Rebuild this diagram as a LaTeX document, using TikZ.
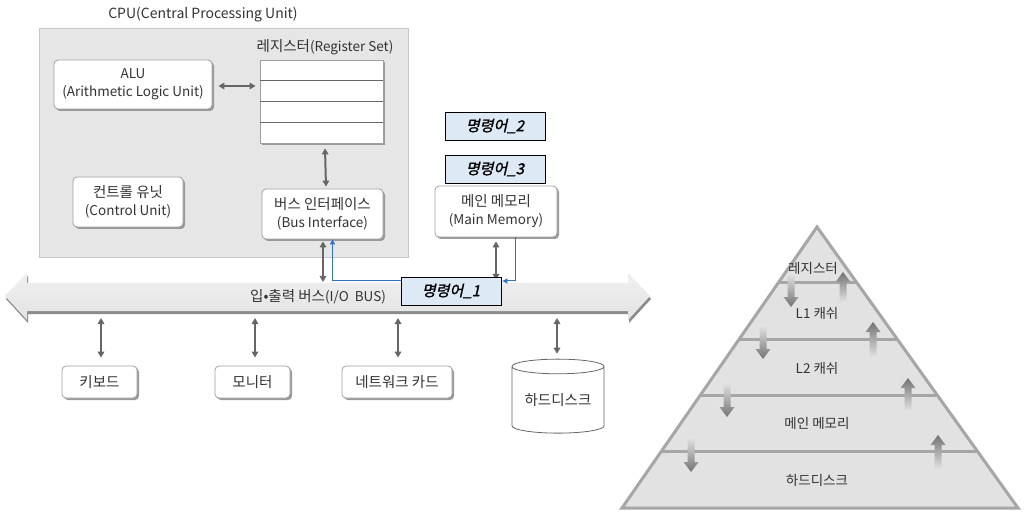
\documentclass[tikz,border=0pt]{standalone}
\usepackage{fontspec}
\setmainfont{Noto Sans CJK KR}
\newfontfamily\instfont[FakeSlant=0.22,FakeBold=1.5]{Noto Sans CJK KR}
\usetikzlibrary{shapes.geometric,shadows,arrows.meta}
\definecolor{txt}{HTML}{333333}
\definecolor{conncol}{HTML}{666666}
\definecolor{cpufill}{HTML}{E6E6E6}
\definecolor{cpuline}{HTML}{C8C8C8}
\definecolor{boxline}{HTML}{A0A0A0}
\definecolor{shadowcol}{HTML}{9A9A9A}
\definecolor{instfill}{HTML}{DDE9F5}
\definecolor{bluel}{HTML}{2F74C0}
\definecolor{pyfill}{HTML}{E2E2E2}
\definecolor{pyline}{HTML}{A6A6A6}
\definecolor{busshadow}{HTML}{8A8A8A}
\newcommand\ko{\fontsize{14.5}{18}\selectfont}
\newcommand\la{\fontsize{13.5}{18}\selectfont}
\tikzset{
  lbl/.style={text=txt,font=\la,align=center,inner sep=0pt},
  wbox/.style={draw=boxline,fill=white,rounded corners=4pt,line width=0.8pt,
    drop shadow={shadow xshift=2pt,shadow yshift=-2pt,fill=shadowcol,opacity=1},
    align=center,text=txt,font=\la,inner sep=0pt},
  regbox/.style={draw=boxline,fill=white,line width=0.8pt,
    drop shadow={shadow xshift=2pt,shadow yshift=-2pt,fill=shadowcol,opacity=1},inner sep=0pt},
  cpubox/.style={draw=cpuline,fill=cpufill,line width=0.8pt,inner sep=0pt},
  instbox/.style={draw=black,fill=instfill,line width=0.8pt,inner sep=0pt,
    minimum width=100pt,minimum height=28pt,font=\instfont\fontsize{15}{17}\selectfont},
  conn/.style={draw=conncol,line width=2pt,{Triangle[length=6pt,width=6.5pt]}-{Triangle[length=6pt,width=6.5pt]}},
  bl/.style={draw=bluel,line width=1pt,-{Triangle[length=5pt,width=5pt]}},
  pylbl/.style={text=txt,font=\fontsize{13.5}{15}\selectfont,inner sep=0pt},
}
\newcommand\pydown[3]{%
  \shade[top color=white!80!gray,bottom color=gray!90!black]
    (#1-3.5,#2) -- (#1+3.5,#2) -- (#1+3.5,#3-10) -- (#1+7.5,#3-10) -- (#1,#3) -- (#1-7.5,#3-10) -- (#1-3.5,#3-10) -- cycle;}
\newcommand\pyup[3]{%
  \shade[bottom color=white!80!gray,top color=gray!90!black]
    (#1-3.5,#2) -- (#1+3.5,#2) -- (#1+3.5,#3+10) -- (#1+7.5,#3+10) -- (#1,#3) -- (#1-7.5,#3+10) -- (#1-3.5,#3+10) -- cycle;}
\begin{document}
\begin{tikzpicture}[x=1pt,y=-1pt]
\useasboundingbox[fill=white] (0,0) rectangle (1024,518);

% CPU
\node[lbl,font=\fontsize{14}{16}\selectfont] (cputitle) at (203,15) {CPU(Central Processing Unit)};
\node[cpubox,minimum width=369pt,minimum height=229pt] (cpu) at (223.5,142.5) {};
\node[lbl] (reglbl) at (325,47) {{\ko 레지스터}(Register Set)};
\node[regbox,minimum width=123pt,minimum height=83pt] (reg) at (321.5,101.5) {};
\foreach \yy in {80,101,122} \draw[conncol,line width=0.8pt] (reg.west |- 0,\yy) -- (reg.east |- 0,\yy);
\node[wbox,minimum width=158pt,minimum height=49pt] (alu) at (133,84.5) {ALU\\(Arithmetic Logic Unit)};
\node[wbox,minimum width=110pt,minimum height=50pt] (cu) at (128,202) {{\ko 컨트롤 유닛}\\(Control Unit)};
\node[wbox,minimum width=121pt,minimum height=50pt] (bif) at (322.5,214) {{\ko 버스 인터페이스}\\(Bus Interface)};
\draw[conn] ([xshift=6pt]alu.east |- 0,86) -- ([xshift=-4pt]reg.west |- 0,86);
\draw[conn] ([xshift=3.5pt,yshift=-5pt]reg.south) -- ([xshift=3.5pt,yshift=2pt]bif.north);

% memory and instructions
\node[instbox] (inst2) at (495,126) {명령어\_2};
\node[instbox] (inst3) at (495,169) {명령어\_3};
\node[wbox,minimum width=122pt,minimum height=51pt] (mem) at (496,211.5) {{\ko 메인 메모리}\\(Main Memory)};

% bus
\fill[busshadow] (6,299) -- (28,276) -- (28,286) -- (629,286) -- (629,276) -- (651,299) -- (629,323) -- (629,314) -- (28,314) -- (28,323) -- cycle;
\shade[top color=white!88!gray,bottom color=white!78!gray]
  (5,296) -- (27,273) -- (27,283) -- (628,283) -- (628,273) -- (650,296) -- (628,320) -- (628,311) -- (27,311) -- (27,320) -- cycle;
\node[lbl,anchor=west] (buslbl) at (250,297) {{\ko 입•출력 버스}(I/O~~BUS)};
\coordinate (bustopL) at (323,282);
\coordinate (bustopR) at (496,280);
\coordinate (busbot) at (0,318);

\draw[conn] ([xshift=0.5pt,yshift=-2pt]bif.south) -- (bustopL);
\draw[conn] ([yshift=-4pt]mem.south) -- (bustopR);

\node[instbox] (inst1) at (451,291) {명령어\_1};
\draw[bl] ([yshift=10pt]inst1.west) -| ([xshift=10pt]bif.south);
\draw[bl] ([xshift=19pt]mem.south) |- ([yshift=10pt,xshift=1pt]inst1.east);

% devices
\node[wbox,font=\ko,minimum width=75pt,minimum height=32pt] (kb) at (99.5,382) {키보드};
\node[wbox,font=\ko,minimum width=75pt,minimum height=32pt] (mon) at (252.5,382) {모니터};
\node[wbox,font=\ko,minimum width=110pt,minimum height=32pt] (net) at (397,382) {네트워크 카드};
\node[cylinder,shape border rotate=90,aspect=0.22,draw=conncol,fill=white,line width=0.8pt,
  minimum width=92pt,minimum height=74pt,inner sep=0pt,text=txt,font=\ko] (hdd) at (558,400) {\raisebox{-4pt}{하드디스크}};
\draw[conn] ([xshift=1.5pt]kb.north |- busbot) -- ([xshift=1.5pt,yshift=8pt]kb.north);
\draw[conn] ([xshift=2.5pt]mon.north |- busbot) -- ([xshift=2.5pt,yshift=8pt]mon.north);
\draw[conn] ([xshift=1pt]net.north |- busbot) -- ([xshift=1pt,yshift=8pt]net.north);
\draw[conn] ([xshift=-1pt]hdd.north |- busbot) -- ([xshift=-1pt,yshift=5pt]hdd.north);

% pyramid
\fill[pyfill] (817,227) -- (1018,508) -- (622,508) -- cycle;
\begin{scope}
\clip (817,227) -- (1018,508) -- (622,508) -- cycle;
\foreach \yy in {283,339,395,451} \draw[pyline,line width=3pt] (600,\yy) -- (1030,\yy);
\end{scope}
\draw[pyline,line width=3pt,line join=miter] (817,227) -- (1018,508) -- (622,508) -- cycle;
\node[pylbl] (p1) at (813,268) {레지스터};
\node[pylbl] (p2) at (817,313) {L1 캐쉬};
\node[pylbl] (p3) at (817,368) {L2 캐쉬};
\node[pylbl] (p4) at (817,423) {메인 메모리};
\node[pylbl] (p5) at (817,480) {하드디스크};
\pydown{791}{273}{307}
\pyup{843}{303}{272}
\pydown{763}{325}{359}
\pyup{873}{358}{322}
\pydown{727}{382}{417}
\pyup{908}{412}{378}
\pydown{691}{437}{472}
\pyup{938}{470}{435}
\end{tikzpicture}
\end{document}
